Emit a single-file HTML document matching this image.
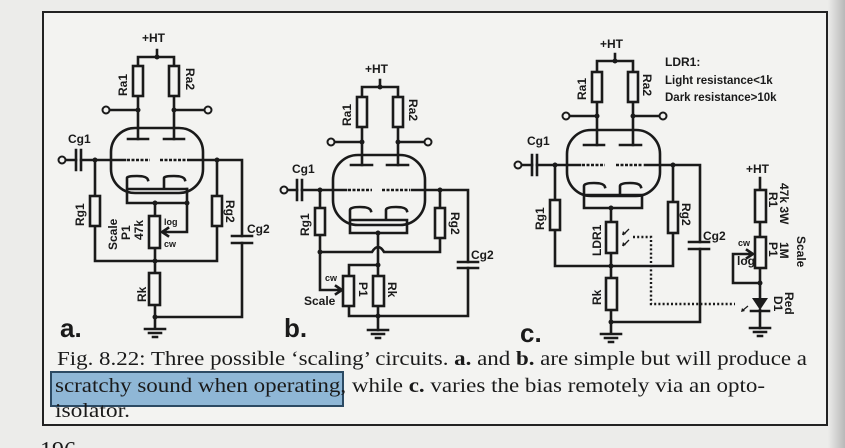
<!DOCTYPE html>
<html><head><meta charset="utf-8"><style>
html,body{margin:0;padding:0;width:845px;height:448px;overflow:hidden;background:#ececea}
svg{display:block}
.l{stroke:#1a1a1a;stroke-width:2.6;fill:none;stroke-linecap:square}
.r{stroke:#1a1a1a;stroke-width:2.6;fill:#f4f4f2}
.t{font-family:"Liberation Sans",sans-serif;font-weight:bold;font-size:12px;fill:#1a1a1a}
.s{font-family:"Liberation Sans",sans-serif;font-weight:bold;font-size:9px;fill:#1a1a1a}
.c{font-family:"Liberation Serif",serif;font-size:20px;fill:#1a1a1a}
.d{fill:#1a1a1a}
</style></head><body>
<svg width="845" height="448" viewBox="0 0 845 448" xmlns="http://www.w3.org/2000/svg">
<defs><linearGradient id="g" x1="0" x2="1"><stop offset="0" stop-color="#ececea"/><stop offset="1" stop-color="#b8b8b8"/></linearGradient></defs>
<rect x="0" y="0" width="845" height="448" fill="#ececea"/>
<rect x="828" y="0" width="17" height="448" fill="url(#g)"/>
<rect x="43" y="12" width="784" height="413" fill="#f3f3f1" stroke="#222" stroke-width="2"/>

<!-- ===== Circuit a ===== -->
<g>
<text class="t" x="142" y="42">+HT</text>
<path class="l" d="M157 50V57M138 57H174M138 57V110M174 57V110M108 110H138M174 110H206M138 110V139M174 110V139"/>
<circle cx="157" cy="57" r="2.5" class="d"/><circle cx="138" cy="110" r="2.5" class="d"/><circle cx="174" cy="110" r="2.5" class="d"/>
<rect class="r" x="133" y="66" width="10" height="30"/><rect class="r" x="169" y="66" width="10" height="30"/>
<circle cx="106" cy="110" r="3.5" fill="#f3f3f1" stroke="#1a1a1a" stroke-width="2"/>
<circle cx="208" cy="110" r="3.5" fill="#f3f3f1" stroke="#1a1a1a" stroke-width="2"/>
<text class="t" transform="translate(127,96) rotate(-90)">Ra1</text>
<text class="t" transform="translate(186,68) rotate(90)">Ra2</text>
<rect x="111" y="128" width="92" height="65" rx="24" fill="none" stroke="#1a1a1a" stroke-width="2.6"/>
<path class="l" d="M128 139H148M164 139H184" stroke-width="3.5"/>
<path class="l" d="M64 160H76M81 160H125M190 160H242M242 160V236M242 243V317M95 160V261M95 261H217M217 160V261M155 203V216M155 248V273M155 305V328M155 317H242"/>
<path d="M127 160H150M160 160H189" stroke="#1a1a1a" stroke-width="2.6" stroke-dasharray="3 1.5"/>
<path class="l" d="M76 150V170M81 150V170" stroke-width="3"/>
<circle cx="62" cy="160" r="3.5" fill="#f3f3f1" stroke="#1a1a1a" stroke-width="2"/>
<path class="l" d="M127 189V178Q127 176 137 176Q147 176 148 180M164 189V178Q164 176 174 176Q184 176 185 180M127 189H187M127 189V203H187"/>
<path class="l" d="M187 189V232H163M168 228L162 232L168 236"/>
<circle cx="95" cy="160" r="2.5" class="d"/><circle cx="217" cy="160" r="2.5" class="d"/>
<circle cx="155" cy="203" r="2.5" class="d"/><circle cx="187" cy="203" r="2.5" class="d"/>
<circle cx="155" cy="261" r="2.5" class="d"/><circle cx="155" cy="317" r="2.5" class="d"/>
<rect class="r" x="90" y="196" width="10" height="30"/><rect class="r" x="212" y="196" width="10" height="30"/>
<rect class="r" x="149" y="216" width="11" height="32"/><rect class="r" x="149" y="273" width="11" height="32"/>
<path class="l" d="M232 236H252M232 243H252" stroke-width="3"/>
<path class="l" d="M145 329H165M149 333H161M153 337H157"/>
<text class="t" x="68" y="143">Cg1</text>
<text class="t" transform="translate(84,226) rotate(-90)">Rg1</text>
<text class="t" transform="translate(117,250) rotate(-90)">Scale</text>
<text class="t" transform="translate(130,240) rotate(-90)">P1</text>
<text class="t" transform="translate(143,240) rotate(-90)">47k</text>
<text class="s" x="164" y="225">log</text><text class="s" x="164" y="247">cw</text>
<text class="t" transform="translate(226,200) rotate(90)">Rg2</text>
<text class="t" x="247" y="233">Cg2</text>
<text class="t" transform="translate(146,302) rotate(-90)">Rk</text>
<text x="60" y="337" style="font-family:'Liberation Sans',sans-serif;font-weight:bold;font-size:26px;fill:#1a1a1a">a.</text>
</g>

<!-- ===== Circuit b ===== -->
<g>
<text class="t" x="365" y="73">+HT</text>
<path class="l" d="M380 80V87M362 87H398M362 87V142M398 87V142M333 142H362M398 142H426M362 142V165M398 142V165"/>
<circle cx="380" cy="87" r="2.5" class="d"/><circle cx="362" cy="142" r="2.5" class="d"/><circle cx="398" cy="142" r="2.5" class="d"/>
<rect class="r" x="357" y="97" width="10" height="30"/><rect class="r" x="393" y="97" width="10" height="30"/>
<circle cx="331" cy="142" r="3.5" fill="#f3f3f1" stroke="#1a1a1a" stroke-width="2"/>
<circle cx="428" cy="142" r="3.5" fill="#f3f3f1" stroke="#1a1a1a" stroke-width="2"/>
<text class="t" transform="translate(351,126) rotate(-90)">Ra1</text>
<text class="t" transform="translate(409,99) rotate(90)">Ra2</text>
<rect x="333" y="155" width="92" height="70" rx="25" fill="none" stroke="#1a1a1a" stroke-width="2.6"/>
<path class="l" d="M351 165H372M387 165H408" stroke-width="3.5"/>
<path class="l" d="M286 190H297M302 190H346M412 190H468M468 190V262M468 268V316M320 190V252M320 252H372Q378 242 384 252H440M440 190V252M378 233V278M378 298V330M349 316H468M349 265H378M349 265V278M349 298V316M320 252V290H341M336 286L342 290L336 294"/>
<path d="M348 190H372M382 190H410" stroke="#1a1a1a" stroke-width="2.6" stroke-dasharray="3 1.5"/>
<path class="l" d="M297 180V200M302 180V200" stroke-width="3"/>
<circle cx="284" cy="190" r="3.5" fill="#f3f3f1" stroke="#1a1a1a" stroke-width="2"/>
<path class="l" d="M350 220V210Q350 207 360 207Q370 207 371 211M386 220V210Q386 207 396 207Q406 207 407 211M350 220H407M350 220V233H407V220"/>
<circle cx="320" cy="190" r="2.5" class="d"/><circle cx="440" cy="190" r="2.5" class="d"/>
<circle cx="378" cy="233" r="2.5" class="d"/><circle cx="320" cy="252" r="2.5" class="d"/>
<circle cx="378" cy="265" r="2.5" class="d"/><circle cx="378" cy="316" r="2.5" class="d"/>
<rect class="r" x="315" y="208" width="10" height="27"/><rect class="r" x="435" y="208" width="10" height="30"/>
<rect class="r" x="343" y="276" width="11" height="30"/><rect class="r" x="373" y="276" width="11" height="30"/>
<path class="l" d="M458 262H478M458 268H478" stroke-width="3"/>
<path class="l" d="M368 330H388M372 334H384M376 338H380"/>
<text class="t" x="292" y="173">Cg1</text>
<text class="t" transform="translate(309,236) rotate(-90)">Rg1</text>
<text class="t" transform="translate(359,282) rotate(90)">P1</text>
<text class="t" transform="translate(388,282) rotate(90)">Rk</text>
<text class="t" transform="translate(451,212) rotate(90)">Rg2</text>
<text class="t" x="471" y="259">Cg2</text>
<text class="s" x="325" y="281">cw</text>
<text class="t" x="304" y="305">Scale</text>
<text x="284" y="337" style="font-family:'Liberation Sans',sans-serif;font-weight:bold;font-size:26px;fill:#1a1a1a">b.</text>
</g>

<!-- ===== Circuit c ===== -->
<g>
<text class="t" x="600" y="48">+HT</text>
<path class="l" d="M615 54V61M597 61H633M597 61V116M633 61V116M568 116H597M633 116H660M597 116V145M633 116V145"/>
<circle cx="615" cy="61" r="2.5" class="d"/><circle cx="597" cy="116" r="2.5" class="d"/><circle cx="633" cy="116" r="2.5" class="d"/>
<rect class="r" x="592" y="72" width="10" height="30"/><rect class="r" x="628" y="72" width="10" height="30"/>
<circle cx="566" cy="116" r="3.5" fill="#f3f3f1" stroke="#1a1a1a" stroke-width="2"/>
<circle cx="663" cy="116" r="3.5" fill="#f3f3f1" stroke="#1a1a1a" stroke-width="2"/>
<text class="t" transform="translate(586,100) rotate(-90)">Ra1</text>
<text class="t" transform="translate(643,74) rotate(90)">Ra2</text>
<rect x="567" y="130" width="93" height="66" rx="24" fill="none" stroke="#1a1a1a" stroke-width="2.6"/>
<path class="l" d="M584 145H604M620 145H641" stroke-width="3.5"/>
<path class="l" d="M520 165H532M537 165H580M645 165H700M700 165V242M700 249V322M555 165V266M555 266H673M673 165V266M611 208V222M611 253V278M611 310V333M611 322H700"/>
<path d="M582 165H605M616 165H643" stroke="#1a1a1a" stroke-width="2.6" stroke-dasharray="3 1.5"/>
<path class="l" d="M532 155V175M537 155V175" stroke-width="3"/>
<circle cx="518" cy="165" r="3.5" fill="#f3f3f1" stroke="#1a1a1a" stroke-width="2"/>
<path class="l" d="M584 195V186Q584 183 594 183Q604 183 605 187M620 195V186Q620 183 630 183Q640 183 641 187M584 195H642M584 195V208H642V195"/>
<circle cx="555" cy="165" r="2.5" class="d"/><circle cx="673" cy="165" r="2.5" class="d"/>
<circle cx="611" cy="208" r="2.5" class="d"/><circle cx="611" cy="266" r="2.5" class="d"/><circle cx="611" cy="322" r="2.5" class="d"/>
<rect class="r" x="550" y="200" width="10" height="30"/><rect class="r" x="668" y="202" width="10" height="31"/>
<rect class="r" x="606" y="222" width="11" height="31"/><rect class="r" x="606" y="278" width="11" height="32"/>
<path class="l" d="M689 242H709M689 249H709" stroke-width="3"/>
<path class="l" d="M601 334H621M605 338H617M609 342H613"/>
<path d="M629 229l-6 6M629 240l-6 6" stroke="#1a1a1a" stroke-width="1.3"/>
<path d="M622 235l1-4 3 3zM622 246l1-4 3 3z" fill="#1a1a1a"/>
<path d="M633 237H651V304H735" stroke="#1a1a1a" stroke-width="2.4" fill="none" stroke-dasharray="2 2.2"/>
<text class="t" x="527" y="145">Cg1</text>
<text class="t" transform="translate(544,230) rotate(-90)">Rg1</text>
<text class="t" transform="translate(601,256) rotate(-90)">LDR1</text>
<text class="t" transform="translate(682,203) rotate(90)">Rg2</text>
<text class="t" x="703" y="240">Cg2</text>
<text class="t" transform="translate(601,305) rotate(-90)">Rk</text>
<text x="520" y="342" style="font-family:'Liberation Sans',sans-serif;font-weight:bold;font-size:26px;fill:#1a1a1a">c.</text>
<text class="t" x="665" y="66">LDR1:</text>
<text class="t" x="665" y="84" style="font-size:11.5px">Light resistance&lt;1k</text>
<text class="t" x="665" y="101" style="font-size:11.5px">Dark resistance&gt;10k</text>
<!-- right chain -->
<text class="t" x="746" y="173">+HT</text>
<path class="l" d="M760 178V190M760 222V237M760 268V298M760 310V328M733 283H760M733 283V254H752M747 250L753 254L747 258"/>
<circle cx="760" cy="283" r="2.5" class="d"/>
<rect class="r" x="755" y="190" width="11" height="32"/><rect class="r" x="755" y="237" width="11" height="31"/>
<path d="M752 298H768L760 310Z" fill="#1a1a1a"/><path class="l" d="M751 311H769"/>
<path d="M748 306l-6 5" stroke="#1a1a1a" stroke-width="1.2"/><path d="M741 312l1-4 3 3z" fill="#1a1a1a"/>
<path class="l" d="M750 328H770M754 332H766M758 336H762"/>
<text class="s" x="738" y="246">cw</text><text class="t" x="737" y="265">log</text>
<text class="t" transform="translate(769,192) rotate(90)">R1</text>
<text class="t" transform="translate(780,183) rotate(90)">47k 3W</text>
<text class="t" transform="translate(769,242) rotate(90)">P1</text>
<text class="t" transform="translate(780,242) rotate(90)">1M</text>
<text class="t" transform="translate(797,236) rotate(90)">Scale</text>
<text class="t" transform="translate(774,296) rotate(90)">D1</text>
<text class="t" transform="translate(785,292) rotate(90)">Red</text>
</g>

<!-- caption -->
<rect x="51" y="372" width="292" height="34" fill="#8fb7d6" stroke="#2c4a63" stroke-width="2"/>
<text class="c" x="57" y="365" textLength="750" lengthAdjust="spacingAndGlyphs">Fig. 8.22: Three possible ‘scaling’ circuits. <tspan font-weight="bold">a.</tspan> and <tspan font-weight="bold">b.</tspan> are simple but will produce a</text>
<text class="c" x="55" y="392" textLength="710" lengthAdjust="spacingAndGlyphs">scratchy sound when operating, while <tspan font-weight="bold">c.</tspan> varies the bias remotely via an opto-</text>
<text class="c" x="55" y="417" textLength="75" lengthAdjust="spacingAndGlyphs">isolator.</text>
<text class="c" x="40" y="458" style="font-size:24px">196</text>
</svg>
</body></html>
